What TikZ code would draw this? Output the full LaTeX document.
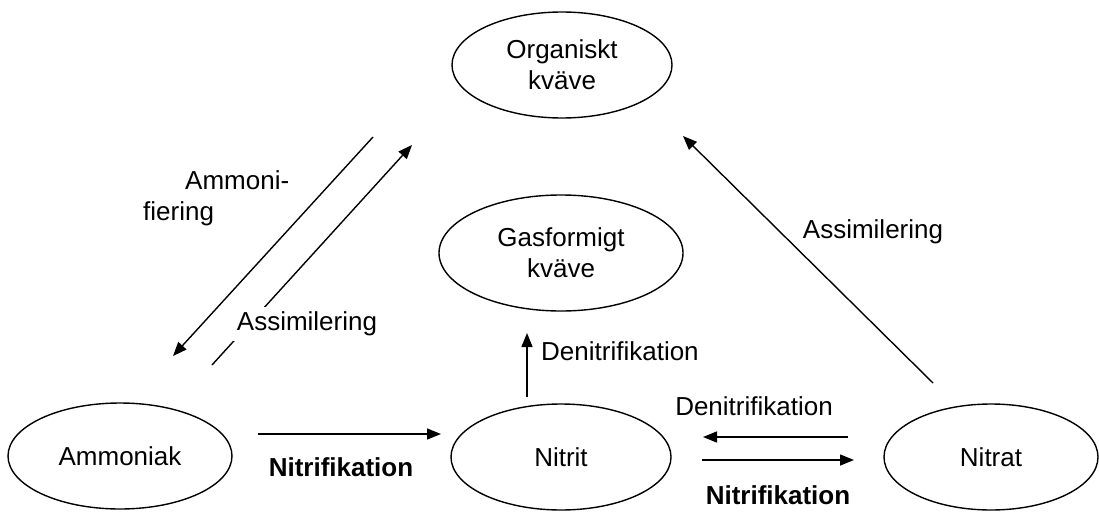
\documentclass[tikz,border=0pt]{standalone}
\usepackage{fontspec}
\setmainfont{Liberation Sans}
\usetikzlibrary{shapes.geometric,arrows.meta}
\begin{document}
\begin{tikzpicture}[x=1pt,y=-1pt,
  every node/.style={font=\fontsize{26}{31}\selectfont},
  pool/.style={ellipse,draw,line width=1.4pt,inner sep=0pt,align=center},
  flow/.style={line width=1.4pt,-{Triangle[length=14pt,width=11pt]}},
  lbl/.style={inner sep=2pt,align=center},
  bold/.style={font=\fontsize{26}{31}\selectfont\bfseries}]
\useasboundingbox (0,0) rectangle (1099,511);
% pools
\node[pool,minimum width=220pt,minimum height=106pt] (org) at (562,65) {Organiskt\\kväve};
\node[pool,minimum width=244pt,minimum height=116pt] (gas) at (561,253) {Gasformigt\\kväve};
\node[pool,minimum width=224pt,minimum height=106pt] (amm) at (120,456) {Ammoniak};
\node[pool,minimum width=220pt,minimum height=106pt] (nitrit) at (561,457) {Nitrit};
\node[pool,minimum width=214pt,minimum height=106pt] (nitrat) at (991,457) {Nitrat};
% connector end points
\coordinate (ammA) at (373,137);
\coordinate (ammB) at (173,356);
\coordinate (asA) at (212,365);
\coordinate (asB) at (412,145);
\coordinate (arA) at (933,383);
\coordinate (arB) at (683,136);
\coordinate (niA) at (258,434);
\coordinate (niB) at (441,434);
\coordinate (deA) at (527,397);
\coordinate (deB) at (527,333);
\coordinate (dnA) at (848,437);
\coordinate (dnB) at (703,437);
\coordinate (nnA) at (702,460);
\coordinate (nnB) at (854,460);
% connectors
\draw[flow] (ammA) -- (ammB);
\draw[flow] (asA) -- (asB);
\draw[flow] (arA) -- (arB);
\draw[flow] (niA) -- (niB);
\draw[flow] (deA) -- (deB);
\draw[flow] (dnA) -- (dnB);
\draw[flow] (nnA) -- (nnB);
% labels
\node[lbl,align=left,anchor=west] (lAmmon) at (141,198) {\hspace*{42pt}Ammoni-\\fiering};
\node[lbl,fill=white,inner xsep=4pt,inner ysep=5pt] (lAsL) at (307,324) {Assimilering};
\node[lbl] (lAsR) at (873,232) {Assimilering};
\node[lbl,bold] (lNi1) at (341,467) {Nitrifikation};
\node[lbl,anchor=west] (lDe1) at (539,351) {Denitrifikation};
\node[lbl] (lDe2) at (754,406) {Denitrifikation};
\node[lbl,bold] (lNi2) at (778,495) {Nitrifikation};
\end{tikzpicture}
\end{document}
